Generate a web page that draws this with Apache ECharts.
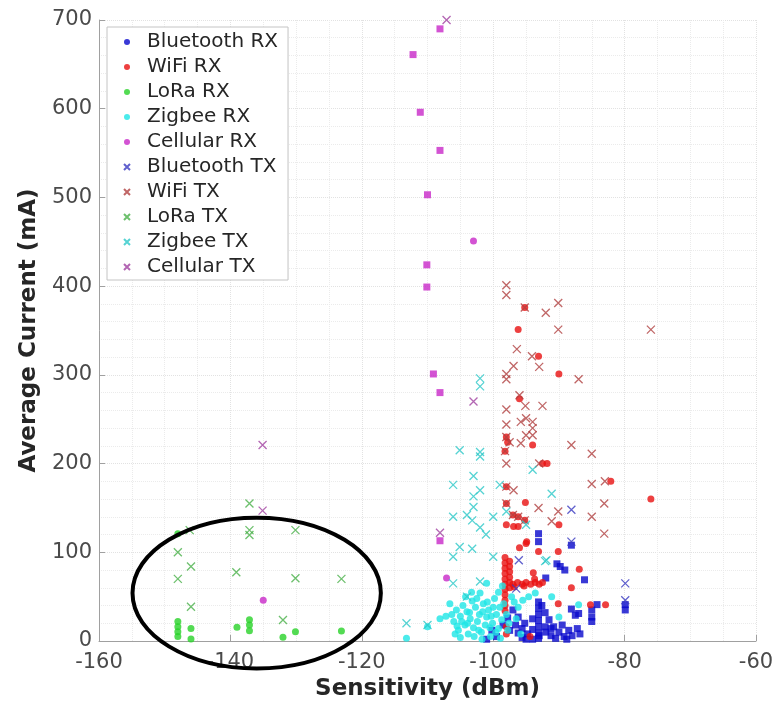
<!DOCTYPE html>
<html>
<head>
<meta charset="utf-8">
<script src="https://cdn.jsdelivr.net/npm/echarts@6/dist/echarts.min.js"></script>
<style>html,body{margin:0;padding:0;background:#fff;}#c{width:781px;height:706px;}</style>
</head>
<body>
<div id="c"></div>
<script>
// ---- data (Sensitivity dBm, Average Current mA) ----
const xTicks = [-160, -140, -120, -100, -80, -60];
const yTicks = [0, 100, 200, 300, 400, 500, 600, 700];
const seriesNames = ['Bluetooth RX','WiFi RX','LoRa RX','Zigbee RX','Cellular RX','Bluetooth TX','WiFi TX','LoRa TX','Zigbee TX','Cellular TX'];

const bluetoothRX = [[-88.1,108],[-93.1,121],[-93.1,112],[-90.3,87],[-89.8,84],[-89.1,80],[-92.0,71],[-86.1,69],
  [-79.9,41],[-79.9,35],[-84.2,41],[-85.0,35],[-85.0,27],[-85.0,22],[-88.1,36],[-87.0,31],[-87.5,29],
  [-93.1,44],[-93.1,37],[-93.1,30],[-93.1,23],[-93.1,16],[-93.1,9],[-93.1,3],[-92.1,32],[-92.1,16],
  [-96.2,27],[-96.2,9],[-95.6,14],[-95.6,4],[-94.8,8],[-94.0,13],[-94.0,2],[-93.0,6],[-92.0,10],[-91.2,6],
  [-91.2,14],[-90.5,3],[-90.0,10],[-89.2,5],[-88.5,12],[-88.0,6],[-87.2,14],[-86.8,8],[-97.5,12],[-98.5,18],
  [-99.5,5],[-100.2,12],[-101.0,2],[-95.2,20],[-94.0,25],[-89.5,18],[-97.0,35],[-91.5,24],[-92.6,40],[-95.0,2],
  [-90.8,16],[-88.8,2],[-97.8,26],[-96.6,18]];

const wifiRX = [[-98.2,94],[-98.2,88],[-98.2,82],[-98.2,76],[-98.2,70],[-98.2,64],[-98.2,58],[-98.2,52],[-98.2,46],
  [-98.2,40],[-98.2,34],[-97.5,90],[-97.5,84],[-97.5,78],[-97.5,72],[-97.5,66],[-97.5,60],[-97.0,64],[-96.3,66],
  [-95.6,64],[-95.0,66],[-94.3,64],[-93.6,66],[-93.0,64],[-92.5,66],[-96.8,61],[-95.3,62],[-93.9,77],[-93.7,70],
  [-95.2,376],[-96.2,351],[-93.1,321],[-90.0,301],[-96.0,273],[-94.0,221],[-98.2,214],[-92.5,200],[-91.8,200],
  [-82.1,180],[-76.0,160],[-95.1,156],[-98.0,155],[-98.0,174],[-97.0,142],[-96.2,140],[-95.2,136],[-90.0,131],
  [-98.0,131],[-96.9,129],[-96.2,129],[-94.9,112],[-96.0,105],[-95.0,110],[-93.1,101],[-90.1,101],[-88.1,60],
  [-86.9,81],[-90.1,42],[-85.2,41],[-82.9,41],[-98.0,16],[-98.0,8],[-94.4,5],[-97.8,224],[-98.0,230]];

const loraRX = [[-148.0,22],[-148.0,16],[-148.0,10.5],[-148.0,5],[-146.0,14],[-146.0,2.3],[-139.0,15.4],
  [-137.1,24],[-137.1,18],[-137.1,11.6],[-132.0,4.2],[-130.1,10.5],[-123.1,11.3],[-148.0,121]];

const zigbeeRX = [[-113.2,3],[-110.0,16],[-108.1,25],[-102.0,54],[-101.0,65],[-94.6,50],[-93.6,54],[-91.1,50],
  [-90.0,27],[-87.0,41],[-106.3,30],[-106.0,22],[-105.6,35],[-105.3,12],[-105.0,28],[-104.6,40],[-104.3,18],
  [-104.0,33],[-103.8,8],[-103.5,25],[-103.2,45],[-103.0,15],[-102.7,38],[-102.4,22],[-102.1,30],[-101.8,10],
  [-101.5,42],[-101.2,18],[-101.0,27],[-100.7,35],[-100.4,5],[-100.1,20],[-99.8,48],[-99.5,30],[-99.2,14],
  [-99.0,38],[-98.7,24],[-98.4,42],[-98.0,30],[-97.6,20],[-97.2,50],[-96.8,44],[-96.2,38],[-95.5,46],[-105.8,8],
  [-104.8,22],[-103.6,32],[-102.9,5],[-102.2,12],[-101.6,33],[-100.9,44],[-100.3,28],[-99.6,10],[-98.9,3],
  [-104.2,50],[-106.6,42],[-107.2,28],[-105.0,4],[-103.3,55],[-102.5,48],[-100.0,38],[-99.2,55],[-97.8,12],
  [-96.5,25],[-95.8,8],[-101.7,2],[-98.6,62],[-100.5,15],[-103.9,20],[-105.5,17]];

const cellularRXsq = [[-108.1,690],[-112.2,661],[-111.1,596],[-108.1,553],[-110.0,503],[-110.1,424],[-110.1,399],
  [-109.1,301],[-108.1,280],[-108.1,113]];
const cellularRXci = [[-103.0,451],[-107.1,71],[-135.0,46]];

const bluetoothTX = [[-88.1,148],[-88.1,112],[-96.1,91],[-96.5,59],[-79.9,65],[-79.9,46]];

const wifiTX = [[-98.0,401],[-98.0,390],[-95.2,376],[-90.1,381],[-92.0,370],[-90.1,351],[-76.0,351],[-96.4,329],
  [-94.1,321],[-96.9,310],[-93.0,309],[-98.0,301],[-98.0,295],[-87.0,295],[-96.0,277],[-95.1,265],[-92.5,265],
  [-98.0,261],[-98.0,244],[-95.8,247],[-95.0,251],[-94.0,247],[-94.0,240],[-94.0,232],[-95.0,232],[-98.0,230],
  [-97.5,224],[-95.8,223],[-88.1,221],[-85.0,211],[-98.2,214],[-98.0,200],[-93.0,200],[-85.0,177],[-83.0,180],
  [-83.1,155],[-85.0,140],[-83.1,121],[-90.1,146],[-91.1,135],[-93.1,150],[-98.0,174],[-96.9,170],[-97.0,142],
  [-96.2,140],[-95.2,136],[-98.0,155]];

const loraTX = [[-137.1,155],[-137.1,125],[-137.1,119.5],[-130.1,125],[-146.2,125],[-148.0,100],[-146.0,84],
  [-148.0,70],[-139.1,77.5],[-130.1,70.7],[-123.1,70],[-146.0,38.7],[-132.0,23.7]];

const zigbeeTX = [[-102.0,296],[-102.0,287],[-105.1,215],[-102.0,213],[-102.0,208],[-94.0,193],[-103.0,186],
  [-91.1,166],[-103.0,163],[-103.0,151],[-102.0,170],[-106.1,176],[-99.0,176],[-101.1,120],[-102.0,128],
  [-103.2,136],[-104.0,142],[-106.1,140],[-100.0,140],[-100.0,95],[-106.1,95],[-105.1,106],[-103.2,104],
  [-104.0,50],[-106.1,65],[-102.0,67],[-113.2,20],[-110.0,18],[-98.0,146],[-95.0,131],[-91.9,91],[-92.1,90]];

const cellularTX = [[-107.1,700],[-135.1,221],[-135.1,147],[-103.0,270],[-108.1,122]];

// annotation ellipse in data units: centre and radii
const ellipseCenter = [-136.0, 54];
const ellipseRadii = [18.9, 85];

const colors = {
  btRX:'#0808cc', wifiRX:'#e81010', loraRX:'#28d228', zigRX:'#1ee6e6', cellRX:'#c828c8',
  btTX:'#3838c0', wifiTX:'#b04040', loraTX:'#48b048', zigTX:'#2cc8c8', cellTX:'#a040a0'
};
const crossPath = 'path://M0,0L10,10M10,0L0,10';
const font = 'DejaVu Sans';

function rx(name, data, color, symbol) {
  return {type:'scatter', name, data, symbol, symbolSize:7, itemStyle:{color}, emphasis:{disabled:true}, z:2};
}
function tx(name, data, color) {
  return {type:'scatter', name, data, symbol:crossPath, symbolSize:8, symbolKeepAspect:true,
    itemStyle:{color:'rgba(0,0,0,0)', borderColor:color, borderWidth:1.3}, emphasis:{disabled:true}, z:3};
}

const chart = echarts.init(document.getElementById('c'), null, {renderer:'canvas'});
const option = {
  animation:false,
  backgroundColor:'#fff',
  textStyle:{fontFamily:font},
  grid:{left:99, right:25, top:20, bottom:65, containLabel:false},
  xAxis:{
    type:'value', min:xTicks[0], max:xTicks[xTicks.length-1], interval:20,
    name:'Sensitivity (dBm)', nameLocation:'middle', nameGap:37,
    nameTextStyle:{fontFamily:font, fontSize:23, fontWeight:'bold', color:'#262626'},
    axisLine:{show:true, lineStyle:{color:'#a0a0a0', width:1}},
    axisTick:{show:true, inside:true, length:6, lineStyle:{color:'#a0a0a0'}},
    axisLabel:{fontFamily:font, fontSize:21, color:'#4a4a4a', margin:11},
    splitLine:{show:true, lineStyle:{type:'dotted', color:'#e2e2e2'}},
    minorTick:{show:false, splitNumber:4},
    minorSplitLine:{show:true, lineStyle:{type:'dotted', color:'#ebebeb'}}
  },
  yAxis:{
    type:'value', min:yTicks[0], max:yTicks[yTicks.length-1], interval:100,
    name:'Average Current (mA)', nameLocation:'middle', nameGap:54,
    nameTextStyle:{fontFamily:font, fontSize:23, fontWeight:'bold', color:'#262626'},
    axisLine:{show:true, lineStyle:{color:'#a0a0a0', width:1}},
    axisTick:{show:true, inside:true, length:6, lineStyle:{color:'#a0a0a0'}},
    axisLabel:{fontFamily:font, fontSize:21, color:'#4a4a4a', margin:7},
    splitLine:{show:true, lineStyle:{type:'dotted', color:'#e2e2e2'}},
    minorTick:{show:false, splitNumber:5},
    minorSplitLine:{show:true, lineStyle:{type:'dotted', color:'#ebebeb'}}
  },
  legend:{
    orient:'vertical', left:107, top:27,
    backgroundColor:'#fff', borderColor:'#c4c4c4', borderWidth:1,
    padding:[5,10,3,16], itemGap:5, itemWidth:30, itemHeight:6,
    textStyle:{fontFamily:font, fontSize:20, color:'#262626', lineHeight:20},
    data: seriesNames.map((n,i)=> i<5 ? {name:n, icon:'circle'} : {name:n})
  },
  series:[
    rx('Bluetooth RX', bluetoothRX, colors.btRX, 'rect'),
    rx('WiFi RX', wifiRX, colors.wifiRX, 'circle'),
    rx('LoRa RX', loraRX, colors.loraRX, 'circle'),
    rx('Zigbee RX', zigbeeRX, colors.zigRX, 'circle'),
    rx('Cellular RX', cellularRXsq, colors.cellRX, 'rect'),
    rx('Cellular RX', cellularRXci, colors.cellRX, 'circle'),
    tx('Bluetooth TX', bluetoothTX, colors.btTX),
    tx('WiFi TX', wifiTX, colors.wifiTX),
    tx('LoRa TX', loraTX, colors.loraTX),
    tx('Zigbee TX', zigbeeTX, colors.zigTX),
    tx('Cellular TX', cellularTX, colors.cellTX)
  ]
};
chart.setOption(option);

// place the annotation ellipse using the chart's own scales
const c0 = chart.convertToPixel({gridIndex:0}, ellipseCenter);
const c1 = chart.convertToPixel({gridIndex:0}, [ellipseCenter[0]+ellipseRadii[0], ellipseCenter[1]+ellipseRadii[1]]);
chart.setOption({
  graphic:[{
    type:'ellipse', z:100, silent:true,
    shape:{cx:c0[0], cy:c0[1], rx:Math.abs(c1[0]-c0[0]), ry:Math.abs(c1[1]-c0[1])},
    style:{fill:'none', stroke:'#000', lineWidth:4}
  }]
});
</script>
</body>
</html>
